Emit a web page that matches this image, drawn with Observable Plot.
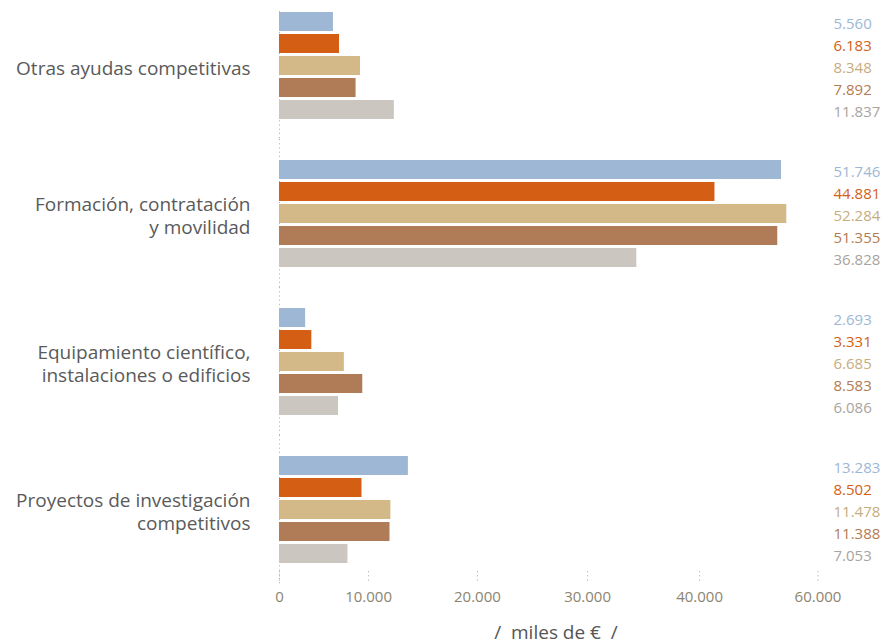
<!DOCTYPE html>
<html>
<head>
<meta charset="utf-8">
<script src="https://cdn.jsdelivr.net/npm/d3@7"></script>
<script src="https://cdn.jsdelivr.net/npm/@observablehq/plot@0.6"></script>
<style>
  body { margin: 0; background: #fff; font-family: "Open Sans", sans-serif; }
  #chart svg { display: block; }
  #title { width: 887px; text-align: center; font-size: 19px; color: #555; height: 24px; line-height: 24px; white-space: pre; padding-left: 279px; padding-right: 54px; box-sizing: border-box; }
</style>
</head>
<body>
<div id="chart"></div>
<div id="title"></div>
<script>
// ---- data ----
const categories = [
  "Otras ayudas competitivas",
  "Formación, contratación\ny movilidad",
  "Equipamiento científico,\ninstalaciones o edificios",
  "Proyectos de investigación\ncompetitivos"
];
const seriesNames = ["Serie 1", "Serie 2", "Serie 3", "Serie 4", "Serie 5"];
const serie1 = [5560, 51746, 2693, 13283];
const serie2 = [6183, 44881, 3331, 8502];
const serie3 = [8348, 52284, 6685, 11478];
const serie4 = [7892, 51355, 8583, 11388];
const serie5 = [11837, 36828, 6086, 7053];
const tickAt = [0, 9180, 20400, 31750, 43300, 55500];
const tickLabels = ["0", "10.000", "20.000", "30.000", "40.000", "60.000"];
const axisTitle = "/  miles de €  /";

// ---- styles ----
const barColors = ["#9db7d5", "#d45e13", "#d3b987", "#b07c57", "#cbc6bf"];
const labelColors = ["#9db7d5", "#d35f14", "#c6ad80", "#b47b52", "#a9a49e"];

const allSeries = [serie1, serie2, serie3, serie4, serie5];
const table = [];
categories.forEach((c, ci) => {
  allSeries.forEach((s, si) => {
    table.push({category: c, series: seriesNames[si], si, value: s[ci]});
  });
});

const locale = d3.formatLocale({decimal: ",", thousands: ".", grouping: [3], currency: ["", "€"]});
const fmt = locale.format(",d");
const tickMap = new Map(tickAt.map((t, i) => [t, tickLabels[i]]));

const chart = Plot.plot({
  width: 887,
  height: 620,
  marginTop: 10,
  marginBottom: 55,
  marginLeft: 279,
  marginRight: 54,
  style: {fontFamily: "Open Sans", fontSize: "15px", background: "#fff"},
  x: {domain: [0, 57100], axis: null},
  y: {domain: seriesNames, axis: null, paddingInner: 0.15, paddingOuter: 0},
  fy: {domain: categories, axis: null, paddingInner: 0.2668, paddingOuter: 0},
  marks: [
    Plot.ruleX(categories, {filter: (d, i) => i === 0, fy: d => d, x: () => 0, stroke: "#b8b8b8", strokeDasharray: "1.2,3", insetBottom: -20}),
    Plot.ruleX(categories, {filter: (d, i) => i > 0, fy: d => d, x: () => 0, stroke: "#b8b8b8", strokeDasharray: "1.2,3", insetTop: -20, insetBottom: -20}),
    Plot.barX(table, {fy: "category", y: "series", x: "value", fill: d => barColors[d.si]}),
    Plot.text(table, {
      fy: "category", y: "series", text: d => fmt(d.value),
      frameAnchor: "right", textAnchor: "start", dx: 0, dy: 2,
      fill: d => labelColors[d.si], fontSize: 15
    }),
    Plot.text(categories, {
      fy: d => d, text: d => d, frameAnchor: "left", textAnchor: "end",
      dx: -29, dy: 1, lineHeight: 1.25, fill: "#5a5a5a", fontSize: 19
    }),
    Plot.axisX({
      ticks: tickAt,
      tickFormat: d => tickMap.get(d),
      tickSize: 18,
      tickPadding: 9,
      stroke: "#b0b0b0",
      strokeDasharray: "0,7,1.2,3,1.2,3,1.2,10",
      fill: "#8b846f",
      fontSize: 15,
      label: null
    })
  ]
});

document.getElementById("chart").appendChild(chart);
document.getElementById("title").textContent = axisTitle;
</script>
</body>
</html>
